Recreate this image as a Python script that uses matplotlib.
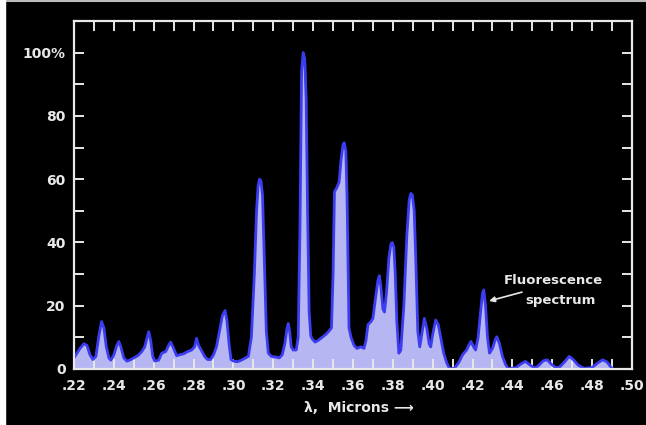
import matplotlib
matplotlib.use("Agg")
import matplotlib.pyplot as plt
from matplotlib.ticker import MultipleLocator, FixedLocator, FixedFormatter
from matplotlib.patches import Rectangle
from matplotlib.lines import Line2D

wavelength = [
    0.2200, 0.2230, 0.2250, 0.2265, 0.2280, 0.2295, 0.2310, 0.2325, 0.2338, 0.2350,
    0.2362, 0.2375, 0.2385, 0.2400, 0.2415, 0.2425, 0.2435, 0.2450, 0.2465, 0.2480,
    0.2500, 0.2520, 0.2540, 0.2555, 0.2565, 0.2575, 0.2585, 0.2595, 0.2605, 0.2625,
    0.2640, 0.2660, 0.2675, 0.2685, 0.2700, 0.2715, 0.2730, 0.2750, 0.2770, 0.2790,
    0.2805, 0.2815, 0.2825, 0.2840, 0.2855, 0.2870, 0.2885, 0.2900, 0.2915, 0.2930,
    0.2945, 0.2958, 0.2968, 0.2978, 0.2988, 0.3000, 0.3020, 0.3040, 0.3060, 0.3075,
    0.3090, 0.3105, 0.3116, 0.3124, 0.3131, 0.3138, 0.3146, 0.3155, 0.3165, 0.3175,
    0.3190, 0.3210, 0.3230, 0.3245, 0.3258, 0.3268, 0.3275, 0.3282, 0.3290, 0.3300,
    0.3315, 0.3325, 0.3334, 0.3342, 0.3350, 0.3358, 0.3365, 0.3372, 0.3380, 0.3388,
    0.3395, 0.3410, 0.3425, 0.3445, 0.3465, 0.3480, 0.3492, 0.3500, 0.3507, 0.3520,
    0.3530, 0.3540, 0.3550, 0.3556, 0.3564, 0.3570, 0.3575, 0.3580, 0.3590, 0.3605,
    0.3620, 0.3640, 0.3655, 0.3665, 0.3675, 0.3690, 0.3700, 0.3712, 0.3725, 0.3732,
    0.3740, 0.3750, 0.3758, 0.3768, 0.3780, 0.3790, 0.3797, 0.3805, 0.3812, 0.3820,
    0.3830, 0.3840, 0.3855, 0.3870, 0.3882, 0.3890, 0.3898, 0.3907, 0.3915, 0.3925,
    0.3935, 0.3945, 0.3958, 0.3970, 0.3982, 0.3990, 0.4000, 0.4015, 0.4028, 0.4040,
    0.4055, 0.4070, 0.4085, 0.4110, 0.4130, 0.4150, 0.4170, 0.4185, 0.4192, 0.4205,
    0.4215, 0.4228, 0.4240, 0.4250, 0.4256, 0.4265, 0.4275, 0.4285, 0.4300, 0.4315,
    0.4322, 0.4335, 0.4350, 0.4365, 0.4380, 0.4420, 0.4440, 0.4465, 0.4490, 0.4510,
    0.4530, 0.4555, 0.4575, 0.4595, 0.4620, 0.4640, 0.4665, 0.4685, 0.4705, 0.4730,
    0.4760, 0.4800, 0.4830, 0.4853, 0.4875, 0.4895, 0.4905,
]

intensity = [
    3.5, 6.5, 8.0, 7.5, 4.5, 3.0, 4.0, 10.5, 15.0, 13.0,
    7.0, 3.5, 2.8, 4.5, 7.5, 8.7, 7.0, 3.5, 2.5, 2.8,
    3.5, 4.2, 5.5, 7.0, 9.5, 11.8, 9.0, 4.0, 2.5, 2.8,
    5.0, 5.5, 7.5, 8.5, 6.5, 4.2, 4.5, 4.8, 5.5, 6.0,
    7.0, 9.7, 7.5, 5.8, 4.0, 3.0, 3.0, 4.5, 7.0, 12.0,
    17.0, 18.5, 15.0, 8.0, 3.0, 2.5, 2.3, 2.8, 3.5, 4.0,
    10.0, 30.0, 50.0, 58.0, 60.0, 59.5, 55.0, 35.0, 12.0, 5.0,
    4.0, 3.8, 3.5, 4.5, 8.0, 12.5, 14.4, 12.0, 7.0, 6.0,
    6.0, 10.0, 45.0, 94.0, 100.0, 98.0, 85.0, 50.0, 18.0, 10.5,
    9.5, 8.5, 9.0, 10.0, 11.0, 12.0, 13.0, 30.0, 56.0, 57.5,
    59.0, 66.0, 71.0, 71.5, 69.0, 55.0, 35.0, 13.0, 10.0, 7.5,
    6.5, 7.0, 6.5, 9.0, 14.0, 15.0, 16.0, 22.0, 28.0, 29.5,
    26.0, 19.0, 18.0, 24.0, 35.0, 39.5, 40.0, 38.5, 30.0, 15.0,
    5.0, 6.0, 20.0, 42.0, 53.5, 55.5, 55.0, 50.0, 35.0, 12.0,
    7.0, 11.0, 16.0, 13.0, 8.0, 7.0, 11.0, 15.5, 14.0, 10.0,
    5.0, 2.0, 0.0, 0.3, 2.0, 4.5, 6.0, 8.0, 8.7, 7.0,
    6.0, 10.0, 18.0, 24.0, 25.0, 20.0, 10.0, 5.0, 6.5, 9.5,
    10.2, 8.0, 4.0, 1.5, 0.0, 0.5, 1.5, 2.4, 1.2, 0.3,
    1.0, 2.6, 2.9, 1.5, 0.3, 0.8, 2.5, 4.0, 3.0, 1.2,
    0.2, 0.5, 2.0, 2.9, 2.2, 0.5, 0.0,
]

x_ticks = [0.22, 0.24, 0.26, 0.28, 0.30, 0.32, 0.34, 0.36, 0.38, 0.40,
           0.42, 0.44, 0.46, 0.48, 0.50]
x_tick_labels = ['.22', '.24', '.26', '.28', '.30', '.32', '.34', '.36', '.38',
                 '.40', '.42', '.44', '.46', '.48', '.50']
y_ticks = [0, 20, 40, 60, 80, 100]
y_tick_labels = ['0', '20', '40', '60', '80', '100%']

annotation_text = ['Fluorescence', 'spectrum']
x_label = 'λ,  Microns ⟶'

FG = '#e8e8e8'
plt.rcParams['font.family'] = ['DejaVu Sans']

fig = plt.figure(figsize=(6.46, 4.25), dpi=100, facecolor='black')
ax = fig.add_axes([74 / 646, 1 - 369 / 425, (632 - 74) / 646, (369 - 21) / 425])
ax.set_facecolor('black')

ax.fill_between(wavelength, intensity, 0, color='#b6b6f2', lw=0, zorder=1)
ax.plot(wavelength, intensity, color='#3c3cf0', lw=2.0, solid_joinstyle='round',
        zorder=2)

ax.set_xlim(0.22, 0.50)
ax.set_ylim(0, 110)

for s in ax.spines.values():
    s.set_color(FG)
    s.set_linewidth(1.6)
    s.set_zorder(3)

ax.xaxis.set_major_locator(FixedLocator(x_ticks))
ax.xaxis.set_major_formatter(FixedFormatter(x_tick_labels))
ax.xaxis.set_minor_locator(MultipleLocator(0.01))
ax.yaxis.set_major_locator(FixedLocator(y_ticks))
ax.yaxis.set_major_formatter(FixedFormatter(y_tick_labels))
ax.yaxis.set_minor_locator(MultipleLocator(10))

ax.tick_params(which='both', direction='in', top=True, right=True,
               length=7, width=1.4, color=FG)
ax.tick_params(axis='x', which='both', labelsize=10, labelcolor=FG, pad=7)
ax.tick_params(axis='y', which='both', labelsize=10, labelcolor=FG, pad=6)
for lab in ax.get_xticklabels() + ax.get_yticklabels():
    lab.set_fontweight('bold')

ax.set_xlabel(x_label, color=FG, fontsize=10, fontweight='bold', x=0.51, labelpad=6)

ax.text(0.4604, 28.1, annotation_text[0], color=FG, fontsize=9.5, fontweight='bold',
        ha='center', va='center')
ax.text(0.4644, 21.8, annotation_text[1], color=FG, fontsize=9.5, fontweight='bold',
        ha='center', va='center')
ax.annotate('', xy=(0.4283, 21.5), xytext=(0.4448, 24.3),
            arrowprops=dict(arrowstyle='-|>', color=FG, lw=1.2, mutation_scale=8,
                            shrinkA=0, shrinkB=0))

fig.patches.append(Rectangle((0, 0), 5 / 646, 1, transform=fig.transFigure,
                             color='white', zorder=5))
fig.lines.append(Line2D([0, 1], [1 - 1 / 425, 1 - 1 / 425], transform=fig.transFigure,
                        color='#bbbbbb', lw=1.5))

fig.savefig('out.png', dpi=100, facecolor='black')
